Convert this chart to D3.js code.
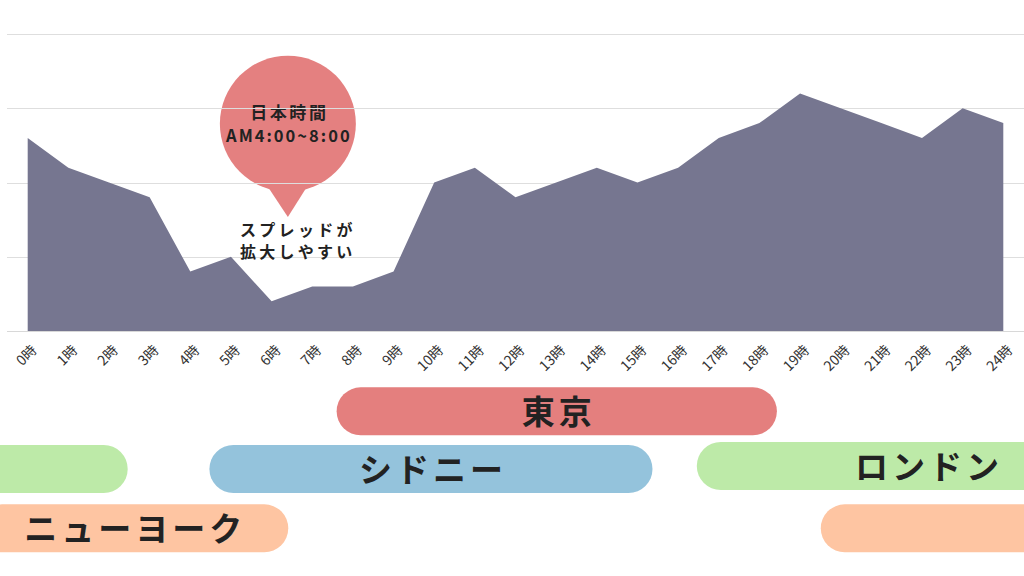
<!DOCTYPE html>
<html><head><meta charset="utf-8">
<script src="https://cdn.jsdelivr.net/npm/d3@7"></script>
<style>
html,body{margin:0;padding:0;background:#fff;}
svg{display:block;font-family:"Noto Sans CJK JP","Noto Sans",sans-serif;}
</style></head>
<body><svg id="c" width="1024" height="576"></svg>
<script>
// ---- data ----
const hours = d3.range(0, 25);
const hourLabels = hours.map(h => h + "時");
const spread = [52, 44, 40, 36, 16, 20, 8, 12, 12, 16, 40, 44, 36, 40, 44, 40, 44, 52, 56, 64, 60, 56, 52, 60, 56];
const gridTicks = [0, 20, 40, 60, 80];

const sessionNames = ["東京", "シドニー", "ロンドン", "ロンドン", "ニューヨーク", "ニューヨーク"];
const sessionStart = [7.6, 4.47, 16.46, -9, -1.22, 19.51];
const sessionEnd   = [18.43, 15.37, 27.78, 2.46, 6.41, 31];
const sessionRow   = [0, 1, 1, 1, 2, 2];
const sessionShowLabel = [true, true, true, false, true, false];

const bubbleLines = ["日本時間", "AM4:00~8:00"];
const noteLines = ["スプレッドが", "拡大しやすい"];
const bubbleHour = 6.4;

// ---- styles ----
const marketColor = {"東京": "#e47f7e", "シドニー": "#94c3dc", "ロンドン": "#bdeaa8", "ニューヨーク": "#fec5a2"};
const areaColor = "#767690";
const gridColor = "#dedede";

const svg = d3.select("#c");
const x = d3.scaleLinear().domain([0, 24]).range([27.7, 1003.3]);
const y = d3.scaleLinear().domain([0, 80]).range([331, 34]);

// bubble (behind gridlines)
const bx = x(bubbleHour), by = 123.7, br = 68;
const bub = svg.append("g");
bub.append("circle").attr("cx", bx).attr("cy", by).attr("r", br).attr("fill", "#e48080");
bub.append("path")
  .attr("d", `M${bx - 22},${by + 60} L${bx},${217} L${bx + 21},${by + 60} Z`)
  .attr("fill", "#e48080");

// gridlines
svg.append("g").selectAll("line").data(gridTicks).join("line")
  .attr("x1", 7).attr("x2", 1024)
  .attr("y1", d => Math.round(y(d)) + 0.5).attr("y2", d => Math.round(y(d)) + 0.5)
  .attr("stroke", gridColor).attr("stroke-width", 1);

// area
const area = d3.area().x((d, i) => x(hours[i])).y0(y(0)).y1(d => y(d));
svg.append("path").datum(spread).attr("d", area).attr("fill", areaColor);

// baseline
svg.append("line").attr("x1", 7).attr("x2", 1024)
  .attr("y1", 331.5).attr("y2", 331.5).attr("stroke", "#d8d8d8");

// x tick labels
svg.append("g").selectAll("text").data(hours).join("text")
  .attr("transform", d => `translate(${x(d) + 10},351) rotate(-45)`)
  .attr("text-anchor", "end")
  .attr("font-size", 14)
  .attr("fill", "#333")
  .text((d, i) => hourLabels[i]);

// bubble text
bub.append("text").attr("x", bx + 1.5).attr("y", 119).attr("text-anchor", "middle")
  .attr("font-size", 17).attr("font-weight", 700).attr("letter-spacing", 2.6)
  .attr("fill", "#222").text(bubbleLines[0]);
bub.append("text").attr("x", bx + 1).attr("y", 141.5).attr("text-anchor", "middle")
  .attr("font-size", 16.5).attr("font-weight", 700).attr("letter-spacing", 2)
  .attr("fill", "#222").text(bubbleLines[1]);

// note (one text, two lines)
const note = svg.append("text")
  .attr("font-size", 16).attr("font-weight", 700).attr("letter-spacing", 3.3)
  .attr("fill", "#222");
note.selectAll("tspan").data(noteLines).join("tspan")
  .attr("x", 240).attr("y", (d, i) => 236 + i * 22)
  .text(d => d);

// sessions
const rowTop = [387.3, 445, 504.3];
const barH = 48;
const sessions = sessionNames.map((n, i) => ({
  name: n, s: sessionStart[i], e: sessionEnd[i], row: sessionRow[i], label: sessionShowLabel[i]
}));
const sg = svg.append("g");
sessions.forEach((d, i) => {
  const top = rowTop[d.row] + (d.name === "ロンドン" && d.label ? -3 : 0);
  const x0 = x(d.s), x1 = x(d.e);
  sg.append("rect").attr("x", x0).attr("y", top).attr("width", x1 - x0).attr("height", barH)
    .attr("rx", barH / 2).attr("ry", barH / 2).attr("fill", marketColor[d.name]);
  if (d.label) {
    sg.append("text").attr("x", (x0 + x1) / 2 + 2).attr("y", top + barH / 2 - 1)
      .attr("text-anchor", "middle").attr("dominant-baseline", "central")
      .attr("font-size", 33).attr("font-weight", 700).attr("letter-spacing", 4)
      .attr("fill", "#222").text(d.name);
  }
});
</script></body></html>
